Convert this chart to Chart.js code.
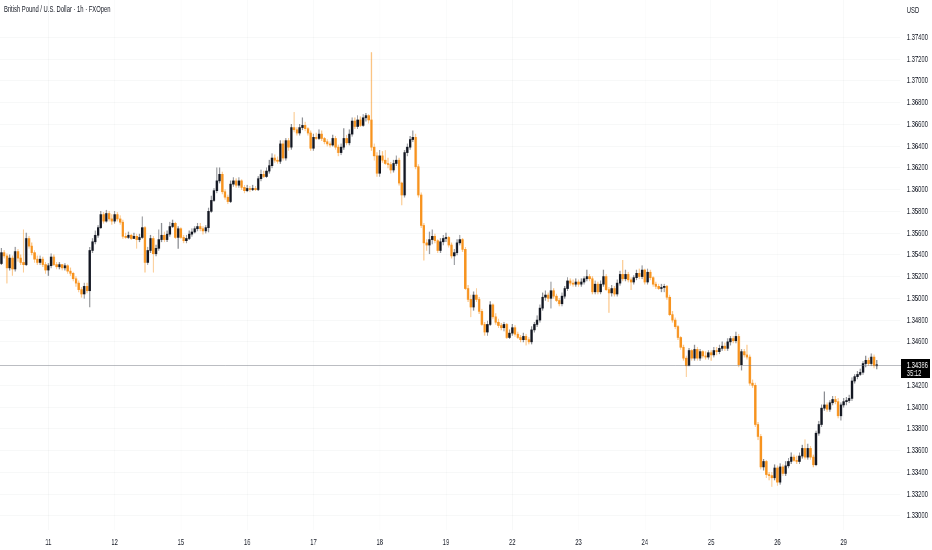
<!DOCTYPE html>
<html>
<head>
<meta charset="utf-8">
<script src="https://cdn.jsdelivr.net/npm/chart.js@4.4.1/dist/chart.umd.min.js"></script>
<style>
  html, body { margin: 0; padding: 0; background: #fff; overflow: hidden; }
  #stage { position: absolute; left: 0; top: 0; width: 1434px; height: 550px; transform: scaleX(0.65); transform-origin: 0 0; }
  #chart { display: block; }
  .txt { position: absolute; font-family: "Liberation Sans", Arial, sans-serif; font-size: 9px; line-height: 1; color: #131722; white-space: nowrap; }
</style>
</head>
<body>
<div id="stage">
  <canvas id="chart" width="1434" height="550"></canvas>
  <div class="txt" style="left:6px; top:5px;">British Pound / U.S. Dollar · 1h · FXOpen</div>
  <div class="txt" style="left:1395px; top:6px;">USD</div>
</div>
<script>
// Sessions (hourly bars per day, first day partial, last day still running)
const days = ["10", "11", "12", "15", "16", "17", "18", "19", "22", "23", "24", "25", "26", "29"];
const barsPerDay = [17, 24, 24, 24, 24, 24, 24, 24, 24, 24, 24, 24, 24, 13];
const emptyBarsRight = 8;

// Price scale
const yMin = 1.3287;
const yMax = 1.37743;
const yTicks = [1.330, 1.332, 1.334, 1.336, 1.338, 1.340, 1.342, 1.346, 1.348, 1.350, 1.352,
  1.354, 1.356, 1.358, 1.360, 1.362, 1.364, 1.366, 1.368, 1.370, 1.372, 1.374];

const lastPrice = 1.34386;
const countdown = "35:12";

// OHLC (open of each bar = previous close)
const firstOpen = 1.3532;

const closes = [
  1.3542, 1.3539, 1.3528, 1.3537, 1.3527, 1.3543, 1.3537, 1.3533, 1.3531, 1.3555,
  1.3548, 1.3542, 1.3536, 1.3533, 1.3536, 1.3531, 1.3526, 1.3530, 1.3538, 1.3531,
  1.3529, 1.3531, 1.3528, 1.3530, 1.3525, 1.3523, 1.3518, 1.3514, 1.3508, 1.3504,
  1.3511, 1.3507, 1.3544, 1.3552, 1.3558, 1.3565, 1.3577, 1.3571, 1.3578, 1.3573,
  1.3571, 1.3577, 1.3573, 1.3570, 1.3557, 1.3556, 1.3558, 1.3555, 1.3557, 1.3554,
  1.3556, 1.3565, 1.3533, 1.3544, 1.3555, 1.3541, 1.3546, 1.3554, 1.3558, 1.3554,
  1.3559, 1.3566, 1.3569, 1.3556, 1.3564, 1.3556, 1.3553, 1.3555, 1.3559, 1.3561,
  1.3564, 1.3566, 1.3564, 1.3562, 1.3565, 1.3580, 1.3590, 1.3599, 1.3608, 1.3614,
  1.3598, 1.3593, 1.3589, 1.3605, 1.3608, 1.3604, 1.3608, 1.3602, 1.3599, 1.3601,
  1.3600, 1.3601, 1.3600, 1.3610, 1.3614, 1.3612, 1.3617, 1.3622, 1.3629, 1.3627,
  1.3626, 1.3642, 1.3629, 1.3645, 1.3639, 1.3657, 1.3655, 1.3652, 1.3657, 1.3659,
  1.3656, 1.3652, 1.3638, 1.3648, 1.3647, 1.3651, 1.3647, 1.3644, 1.3642, 1.3641,
  1.3647, 1.3639, 1.3634, 1.3639, 1.3647, 1.3643, 1.3651, 1.3663, 1.3658, 1.3664,
  1.3659, 1.3666, 1.3668, 1.3664, 1.3639, 1.3631, 1.3615, 1.3631, 1.3627, 1.3624,
  1.3623, 1.3618, 1.3624, 1.3627, 1.3606, 1.3595, 1.3634, 1.3639, 1.3646, 1.3648,
  1.3621, 1.3595, 1.3567, 1.3551, 1.3549, 1.3554, 1.3557, 1.3553, 1.3544, 1.3552,
  1.3555, 1.3556, 1.3549, 1.3539, 1.3542, 1.3551, 1.3554, 1.3545, 1.3509, 1.3499,
  1.3492, 1.3503, 1.3499, 1.3488, 1.3476, 1.3469, 1.3476, 1.3494, 1.3483, 1.3478,
  1.3475, 1.3473, 1.3476, 1.3464, 1.3468, 1.3473, 1.3467, 1.3464, 1.3462, 1.3465,
  1.3462, 1.3460, 1.3471, 1.3476, 1.3480, 1.3491, 1.3501, 1.3503, 1.3500, 1.3507,
  1.3502, 1.3498, 1.3495, 1.3502, 1.3509, 1.3516, 1.3514, 1.3513, 1.3515, 1.3513,
  1.3515, 1.3518, 1.3520, 1.3518, 1.3506, 1.3513, 1.3506, 1.3513, 1.3520, 1.3508,
  1.3505, 1.3509, 1.3504, 1.3514, 1.3522, 1.3518, 1.3522, 1.3517, 1.3515, 1.3519,
  1.3523, 1.3520, 1.3526, 1.3515, 1.3524, 1.3519, 1.3513, 1.3511, 1.3509, 1.3510,
  1.3511, 1.3501, 1.3485, 1.3480, 1.3474, 1.3464, 1.3455, 1.3445, 1.3438, 1.3452,
  1.3445, 1.3453, 1.3445, 1.3451, 1.3447, 1.3446, 1.3450, 1.3448, 1.3452, 1.3451,
  1.3454, 1.3456, 1.3454, 1.3460, 1.3463, 1.3461, 1.3465, 1.3439, 1.3451, 1.3448,
  1.3446, 1.3422, 1.3420, 1.3384, 1.3373, 1.3345, 1.3350, 1.3338, 1.3337, 1.3335,
  1.3344, 1.3331, 1.3345, 1.3339, 1.3346, 1.3350, 1.3354, 1.3351, 1.3350, 1.3355,
  1.3362, 1.3354, 1.3362, 1.3354, 1.3347, 1.3376, 1.3384, 1.3399, 1.3402, 1.3398,
  1.3404, 1.3407, 1.3405, 1.3392, 1.3402, 1.3405, 1.3406, 1.3408, 1.3424, 1.3428,
  1.3430, 1.3432, 1.3440, 1.3443, 1.3440, 1.3446, 1.3438, 1.34386
];

const highs = [
  1.3546, 1.3544, 1.3541, 1.3540, 1.3539, 1.3547, 1.3545, 1.3540, 1.3563, 1.3560,
  1.3557, 1.3551, 1.3544, 1.3539, 1.3539, 1.3538, 1.3533, 1.3532, 1.3541, 1.3540,
  1.3533, 1.3533, 1.3531, 1.3532, 1.3531, 1.3528, 1.3524, 1.3520, 1.3516, 1.3510,
  1.3514, 1.3514, 1.3547, 1.3555, 1.3562, 1.3567, 1.3580, 1.3579, 1.3581, 1.3580,
  1.3577, 1.3580, 1.3579, 1.3576, 1.3572, 1.3560, 1.3561, 1.3559, 1.3560, 1.3559,
  1.3559, 1.3575, 1.3566, 1.3547, 1.3558, 1.3557, 1.3549, 1.3563, 1.3569, 1.3561,
  1.3562, 1.3570, 1.3572, 1.3570, 1.3566, 1.3565, 1.3558, 1.3558, 1.3562, 1.3564,
  1.3566, 1.3569, 1.3569, 1.3566, 1.3567, 1.3583, 1.3594, 1.3601, 1.3620, 1.3620,
  1.3616, 1.3600, 1.3595, 1.3608, 1.3611, 1.3610, 1.3611, 1.3609, 1.3604, 1.3604,
  1.3603, 1.3604, 1.3603, 1.3612, 1.3618, 1.3617, 1.3620, 1.3627, 1.3633, 1.3632,
  1.3630, 1.3645, 1.3645, 1.3647, 1.3647, 1.3660, 1.3671, 1.3657, 1.3660, 1.3666,
  1.3662, 1.3657, 1.3654, 1.3651, 1.3652, 1.3655, 1.3654, 1.3648, 1.3646, 1.3644,
  1.3650, 1.3649, 1.3641, 1.3642, 1.3656, 1.3650, 1.3655, 1.3666, 1.3666, 1.3668,
  1.3667, 1.3669, 1.3670, 1.3669, 1.3726, 1.3642, 1.3634, 1.3636, 1.3635, 1.3636,
  1.3629, 1.3625, 1.3627, 1.3631, 1.3629, 1.3607, 1.3636, 1.3642, 1.3649, 1.3654,
  1.3651, 1.3623, 1.3597, 1.3569, 1.3554, 1.3561, 1.3563, 1.3559, 1.3554, 1.3555,
  1.3558, 1.3560, 1.3557, 1.3551, 1.3545, 1.3554, 1.3558, 1.3555, 1.3547, 1.3512,
  1.3503, 1.3506, 1.3509, 1.3501, 1.3490, 1.3478, 1.3479, 1.3497, 1.3495, 1.3486,
  1.3481, 1.3477, 1.3478, 1.3477, 1.3471, 1.3476, 1.3475, 1.3469, 1.3466, 1.3468,
  1.3467, 1.3464, 1.3474, 1.3478, 1.3484, 1.3494, 1.3505, 1.3507, 1.3505, 1.3515,
  1.3509, 1.3504, 1.3500, 1.3505, 1.3511, 1.3519, 1.3518, 1.3517, 1.3518, 1.3517,
  1.3518, 1.3520, 1.3526, 1.3522, 1.3520, 1.3516, 1.3515, 1.3516, 1.3526, 1.3522,
  1.3510, 1.3512, 1.3511, 1.3517, 1.3525, 1.3535, 1.3526, 1.3524, 1.3519, 1.3521,
  1.3526, 1.3527, 1.3530, 1.3527, 1.3527, 1.3526, 1.3520, 1.3515, 1.3513, 1.3513,
  1.3513, 1.3512, 1.3503, 1.3488, 1.3482, 1.3475, 1.3465, 1.3457, 1.3447, 1.3454,
  1.3453, 1.3457, 1.3455, 1.3453, 1.3452, 1.3451, 1.3452, 1.3452, 1.3455, 1.3455,
  1.3457, 1.3460, 1.3459, 1.3463, 1.3465, 1.3465, 1.3469, 1.3467, 1.3453, 1.3453,
  1.3457, 1.3448, 1.3425, 1.3422, 1.3386, 1.3375, 1.3352, 1.3351, 1.3340, 1.3340,
  1.3347, 1.3346, 1.3348, 1.3347, 1.3350, 1.3353, 1.3358, 1.3356, 1.3355, 1.3358,
  1.3365, 1.3370, 1.3366, 1.3364, 1.3356, 1.3378, 1.3387, 1.3402, 1.3414, 1.3404,
  1.3406, 1.3410, 1.3410, 1.3408, 1.3404, 1.3408, 1.3409, 1.3411, 1.3427, 1.3430,
  1.3433, 1.3435, 1.3442, 1.3447, 1.3445, 1.3449, 1.3448, 1.3443
];

const lows = [
  1.3531, 1.3537, 1.3514, 1.3526, 1.3521, 1.3525, 1.3534, 1.3531, 1.3524, 1.3530,
  1.3546, 1.3540, 1.3533, 1.3531, 1.3531, 1.3529, 1.3523, 1.3521, 1.3528, 1.3530,
  1.3527, 1.3527, 1.3526, 1.3526, 1.3523, 1.3521, 1.3516, 1.3511, 1.3506, 1.3501,
  1.3500, 1.3505, 1.3492, 1.3542, 1.3550, 1.3556, 1.3564, 1.3569, 1.3570, 1.3571,
  1.3568, 1.3569, 1.3571, 1.3568, 1.3555, 1.3555, 1.3555, 1.3554, 1.3555, 1.3546,
  1.3552, 1.3555, 1.3524, 1.3531, 1.3542, 1.3524, 1.3539, 1.3544, 1.3552, 1.3552,
  1.3552, 1.3557, 1.3565, 1.3555, 1.3546, 1.3555, 1.3551, 1.3551, 1.3554, 1.3557,
  1.3560, 1.3562, 1.3562, 1.3559, 1.3560, 1.3561, 1.3579, 1.3589, 1.3597, 1.3606,
  1.3596, 1.3591, 1.3587, 1.3588, 1.3603, 1.3602, 1.3602, 1.3600, 1.3597, 1.3598,
  1.3598, 1.3599, 1.3599, 1.3599, 1.3608, 1.3611, 1.3611, 1.3615, 1.3620, 1.3625,
  1.3624, 1.3624, 1.3627, 1.3627, 1.3636, 1.3637, 1.3653, 1.3650, 1.3650, 1.3655,
  1.3654, 1.3650, 1.3636, 1.3636, 1.3646, 1.3646, 1.3645, 1.3642, 1.3640, 1.3639,
  1.3640, 1.3637, 1.3631, 1.3632, 1.3637, 1.3641, 1.3641, 1.3649, 1.3656, 1.3656,
  1.3658, 1.3658, 1.3663, 1.3661, 1.3636, 1.3627, 1.3612, 1.3612, 1.3625, 1.3623,
  1.3620, 1.3615, 1.3616, 1.3622, 1.3604, 1.3586, 1.3593, 1.3631, 1.3637, 1.3644,
  1.3619, 1.3593, 1.3565, 1.3535, 1.3544, 1.3541, 1.3550, 1.3551, 1.3542, 1.3542,
  1.3549, 1.3552, 1.3547, 1.3537, 1.3531, 1.3540, 1.3549, 1.3543, 1.3508, 1.3497,
  1.3483, 1.3489, 1.3497, 1.3486, 1.3475, 1.3466, 1.3466, 1.3475, 1.3481, 1.3476,
  1.3473, 1.3471, 1.3470, 1.3463, 1.3463, 1.3466, 1.3465, 1.3463, 1.3460, 1.3460,
  1.3457, 1.3458, 1.3458, 1.3469, 1.3474, 1.3478, 1.3489, 1.3498, 1.3497, 1.3491,
  1.3500, 1.3497, 1.3493, 1.3493, 1.3500, 1.3507, 1.3512, 1.3511, 1.3511, 1.3511,
  1.3511, 1.3513, 1.3516, 1.3516, 1.3504, 1.3504, 1.3504, 1.3504, 1.3511, 1.3507,
  1.3487, 1.3502, 1.3502, 1.3502, 1.3512, 1.3516, 1.3516, 1.3515, 1.3508, 1.3513,
  1.3517, 1.3518, 1.3518, 1.3513, 1.3513, 1.3517, 1.3511, 1.3509, 1.3508, 1.3506,
  1.3506, 1.3499, 1.3484, 1.3478, 1.3472, 1.3462, 1.3453, 1.3443, 1.3428, 1.3444,
  1.3443, 1.3443, 1.3443, 1.3443, 1.3445, 1.3444, 1.3444, 1.3443, 1.3446, 1.3448,
  1.3449, 1.3452, 1.3452, 1.3452, 1.3457, 1.3459, 1.3459, 1.3437, 1.3434, 1.3446,
  1.3444, 1.3420, 1.3418, 1.3382, 1.3370, 1.3343, 1.3342, 1.3335, 1.3333, 1.3327,
  1.3333, 1.3328, 1.3329, 1.3337, 1.3337, 1.3344, 1.3348, 1.3350, 1.3348, 1.3348,
  1.3353, 1.3352, 1.3352, 1.3352, 1.3345, 1.3346, 1.3374, 1.3382, 1.3397, 1.3396,
  1.3396, 1.3402, 1.3403, 1.3390, 1.3388, 1.3400, 1.3402, 1.3404, 1.3406, 1.3422,
  1.3426, 1.3429, 1.3430, 1.3437, 1.3438, 1.3438, 1.3436, 1.3435
];

// Colours
const upBody = "#131722";
const downBody = "#f7931e";
const upWick = "rgba(19, 23, 34, 0.5)";
const downWick = "rgba(247, 147, 30, 0.55)";
const gridColor = "rgba(42, 46, 57, 0.035)";
const textColor = "#131722";
const fontFamily = "'Liberation Sans', Arial, sans-serif";

// Build category labels and per-bar series
const labels = [];
const tickIdx = [];
days.forEach((day, d) => {
  for (let h = 0; h < barsPerDay[d]; h++) {
    if (h === 0 && d > 0) tickIdx.push(labels.length);
    labels.push(h === 0 && d > 0 ? day : "");
  }
});
for (let i = 0; i < emptyBarsRight; i++) labels.push("");

const opens = closes.map((c, i) => (i === 0 ? firstOpen : closes[i - 1]));
const bodies = closes.map((c, i) => [opens[i], c]);
const wicks = closes.map((c, i) => [Math.min(lows[i], opens[i], c), Math.max(highs[i], opens[i], c)]);
const isUp = closes.map((c, i) => c >= opens[i]);

// Current price line + label on the price scale
const priceLine = {
  id: "priceLine",
  afterDraw(chart) {
    const { ctx, chartArea, scales } = chart;
    const py = Math.round(scales.y.getPixelForValue(lastPrice)) + 0.5;
    ctx.save();
    ctx.strokeStyle = "rgba(120, 123, 134, 0.5)";
    ctx.lineWidth = 1;
    ctx.beginPath();
    ctx.moveTo(chartArea.left, py);
    ctx.lineTo(chartArea.right + 1, py);
    ctx.stroke();

    const x0 = chartArea.right + 1;
    ctx.fillStyle = "#000";
    ctx.fillRect(x0, py - 6.5, chart.width - x0 - 3, 19);
    ctx.fillStyle = "#fff";
    ctx.font = `9px ${fontFamily}`;
    ctx.textAlign = "left";
    ctx.textBaseline = "middle";
    ctx.fillText(lastPrice.toFixed(5), chartArea.right + 10, py);
    ctx.fillText(countdown, chartArea.right + 10, py + 8.5);
    ctx.restore();
  },
};

const ctx = document.getElementById("chart").getContext("2d");
new Chart(ctx, {
  type: "bar",
  data: {
    labels,
    datasets: [
      {
        label: "Body",
        data: bodies,
        backgroundColor: isUp.map((u) => (u ? upBody : downBody)),
        borderWidth: 0,
        barThickness: 3,
        minBarLength: 1,
        grouped: false,
        order: 0,
      },
      {
        label: "Wick",
        data: wicks,
        backgroundColor: isUp.map((u) => (u ? upWick : downWick)),
        borderWidth: 0,
        barThickness: 1,
        grouped: false,
        order: 1,
      },
    ],
  },
  options: {
    responsive: false,
    animation: false,
    devicePixelRatio: 1,
    layout: { padding: 0 },
    plugins: { legend: { display: false }, tooltip: { enabled: false } },
    scales: {
      x: {
        offset: true,
        border: { display: false },
        grid: { offset: false, color: gridColor, drawTicks: false },
        ticks: {
          autoSkip: false,
          maxRotation: 0,
          padding: 7,
          color: textColor,
          font: { family: fontFamily, size: 9 },
          callback: function (value) { return this.getLabelForValue(value); },
        },
        afterBuildTicks: (scale) => { scale.ticks = tickIdx.map((i) => ({ value: i })); },
        afterFit: (scale) => {
          scale.height = 20;
          scale.paddingLeft = 0;
          scale.paddingRight = 0;
        },
      },
      y: {
        position: "right",
        min: yMin,
        max: yMax,
        border: { display: false },
        grid: { color: gridColor, drawTicks: false },
        ticks: {
          padding: 10,
          color: textColor,
          font: { family: fontFamily, size: 9 },
          callback: (v) => v.toFixed(5),
        },
        afterBuildTicks: (scale) => { scale.ticks = yTicks.map((v) => ({ value: v })); },
        afterFit: (scale) => {
          scale.width = 49;
          scale.paddingTop = 0;
          scale.paddingBottom = 0;
        },
      },
    },
  },
  plugins: [priceLine],
});
</script>
</body>
</html>
